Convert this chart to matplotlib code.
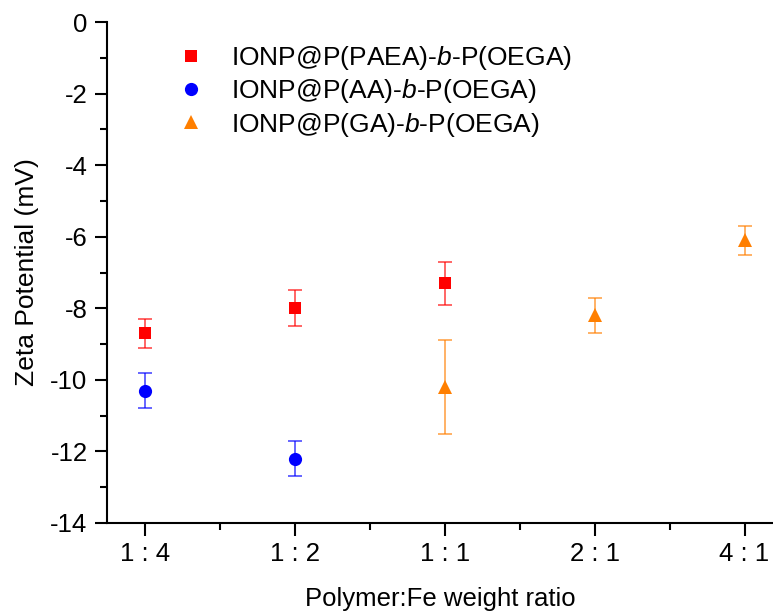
import matplotlib
matplotlib.use("Agg")
import matplotlib.pyplot as plt
from matplotlib.ticker import MultipleLocator, FixedLocator

plt.rcParams['font.family'] = ['Liberation Sans', 'DejaVu Sans']
plt.rcParams['mathtext.fontset'] = 'custom'
plt.rcParams['mathtext.it'] = 'Liberation Sans:italic'
plt.rcParams['mathtext.rm'] = 'Liberation Sans'

# categories on x axis
ratios = ['1 : 4', '1 : 2', '1 : 1', '2 : 1', '4 : 1']

# zeta potential values (mV) and errors
paea_x = [0, 1, 2]
paea_y = [-8.7, -8.0, -7.3]
paea_err = [0.4, 0.5, 0.6]

aa_x = [0, 1]
aa_y = [-10.3, -12.2]
aa_err = [0.5, 0.5]

ga_x = [2, 3, 4]
ga_y = [-10.2, -8.2, -6.1]
ga_err = [1.3, 0.5, 0.4]

labels = [r'IONP@P(PAEA)-$\it{b}$-P(OEGA)',
          r'IONP@P(AA)-$\it{b}$-P(OEGA)',
          r'IONP@P(GA)-$\it{b}$-P(OEGA)']

fig = plt.figure(figsize=(7.73, 6.12), dpi=100)
ax = fig.add_axes([107 / 773, 1 - 523 / 612, 1 - 107 / 773, (523 - 22) / 612])

series = [
    (paea_x, paea_y, paea_err, 's', '#ff0000', 8.5),
    (aa_x, aa_y, aa_err, 'o', '#0000ff', 9.5),
    (ga_x, ga_y, ga_err, '^', '#ff7f00', 10),
]

handles = []
for (x, y, e, m, c, ms), lab in zip(series, labels):
    ax.errorbar(x, y, yerr=e, fmt='none', ecolor=c, alpha=0.7,
                elinewidth=1.2, capsize=5, capthick=1.2, zorder=2)
    h, = ax.plot(x, y, linestyle='none', marker=m, color=c,
                 markersize=ms, markeredgewidth=0, label=lab, zorder=3)
    handles.append(h)

ax.set_xlim(-0.253, 4.19)
ax.set_ylim(-14, 0)

ax.xaxis.set_major_locator(FixedLocator(range(len(ratios))))
ax.set_xticklabels(ratios)
ax.xaxis.set_minor_locator(FixedLocator([0.5, 1.5, 2.5, 3.5]))
ax.yaxis.set_major_locator(MultipleLocator(2))
ax.yaxis.set_minor_locator(MultipleLocator(1))
ax.set_yticklabels([f'{int(v)}' for v in ax.get_yticks()])

for s in ['top', 'right']:
    ax.spines[s].set_visible(False)
for s in ['left', 'bottom']:
    ax.spines[s].set_linewidth(1.5)

ax.tick_params(axis='both', which='major', direction='out', length=9,
               width=1.5, labelsize=18.5, pad=5)
ax.tick_params(axis='both', which='minor', direction='out', length=5,
               width=1.5)

ax.set_xlabel('Polymer:Fe weight ratio', fontsize=18.5, labelpad=15)
ax.set_ylabel('Zeta Potential (mV)', fontsize=19, labelpad=8)

ax.legend(handles=handles, loc='upper left', bbox_to_anchor=(0.1066, 0.956),
          frameon=False, fontsize=19, handletextpad=1.0, labelspacing=0.2,
          handlelength=1.0, borderpad=0, borderaxespad=0)

fig.savefig('out.png', dpi=100)
